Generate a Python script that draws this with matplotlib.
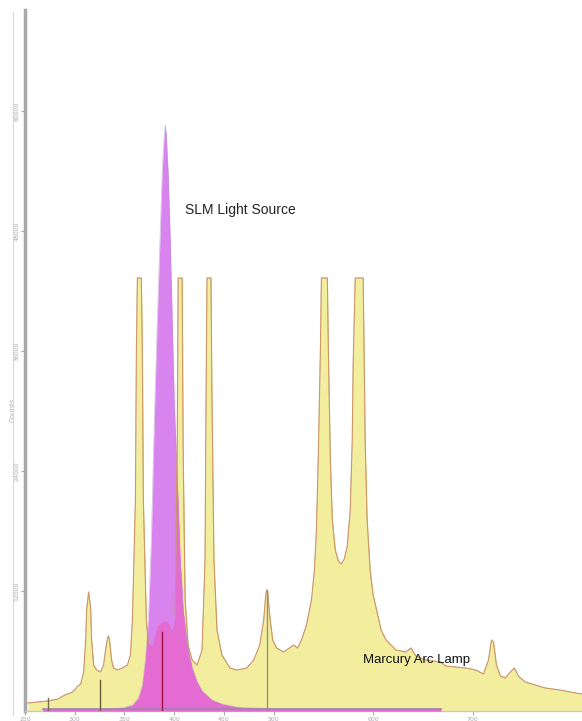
import numpy as np
import matplotlib
matplotlib.use("Agg")
import matplotlib.pyplot as plt
from matplotlib.lines import Line2D

# Mercury arc lamp spectrum (wavelength nm, counts; saturated at 43300)
hg_nm = [253, 263, 273, 283, 290, 296, 300, 303, 306, 309, 311, 312, 314, 316, 317, 319,
         322, 326, 329, 331, 333, 334, 335, 337, 339, 343, 348, 353, 356, 358, 361, 362,
         363, 367, 368, 369, 372, 374, 378, 383, 388, 393, 398, 401, 403, 404, 408, 409,
         411, 414, 418, 423, 428, 431, 432, 433, 437, 438, 440, 443, 448, 456, 463, 473,
         480, 486, 490, 492, 493, 494, 496, 499, 503, 510, 516, 520, 524, 528, 533, 538,
         541, 543, 545, 547, 548, 554, 555, 557, 559, 562, 565, 568, 571, 574, 577, 579,
         580, 582, 590, 591, 592, 594, 597, 600, 604, 608, 613, 618, 623, 633, 638, 643,
         653, 668, 673, 683, 693, 703, 711, 716, 719, 721, 724, 728, 733, 738, 742, 746,
         753, 763, 773, 788, 798, 810]
hg_counts = [800, 900, 1000, 1200, 1600, 1800, 2100, 2500, 2700, 3900, 7100, 10100, 11900, 10300, 7100, 4600,
             4100, 3900, 4600, 6100, 7300, 7500, 7100, 5100, 4300, 4100, 4300, 4600, 5600, 9100, 21100, 36100,
             43300, 43300, 36100, 21100, 9100, 6800, 6500, 8500, 9000, 9000, 8000, 9600, 26100, 43300, 43300, 26100,
             11100, 6600, 5100, 4600, 6100, 15100, 31100, 43300, 43300, 31100, 15100, 8100, 5600, 4300, 4100, 4300,
             5100, 6600, 9100, 11600, 12100, 11900, 9600, 7100, 6300, 5900, 6300, 6600, 6300, 7100, 8600, 11100,
             14100, 18100, 26100, 36100, 43300, 43300, 36100, 25100, 19100, 16100, 15000, 14700, 15200, 16500, 20100, 27100,
             35100, 43300, 43300, 35100, 27100, 19100, 14100, 11600, 9900, 8100, 7100, 6600, 6100, 5900, 6300, 5500,
             5100, 4900, 4500, 4400, 4300, 4100, 3700, 5100, 7100, 6900, 4600, 3500, 3300, 3900, 4300, 3500,
             2900, 2600, 2300, 2100, 1900, 1700]

# SLM light source spectrum
slm_nm = [268, 328, 348, 358, 364, 368, 371, 374, 377, 380, 383, 386, 388, 390, 391, 392,
          394, 396, 398, 400, 403, 406, 409, 413, 418, 423, 428, 438, 448, 463, 478, 528, 668]
slm_counts = [200, 200, 300, 600, 1300, 2600, 5100, 9100, 17100, 29100, 39100, 48100, 54100, 57600, 58600, 57600,
              53600, 47100, 39100, 31100, 23100, 15100, 10100, 6600, 4300, 2900, 2000, 1100, 700, 400, 300, 200, 200]

# Cursor / marker lines (nm, top counts)
marker_nm = [273, 325, 388, 493]
marker_top = [1300, 3100, 7900, 12100]
marker_colors = ["#7a6a50", "#6a5a40", "#a01040", "#9a9080"]

xtick_vals = [250, 300, 350, 400, 450, 500, 600, 700]
ytick_vals = [12000, 24000, 36000, 48000, 60000]

fig = plt.figure(figsize=(5.82, 7.21), dpi=100)
ax = fig.add_axes([25 / 582, 1 - 711 / 721, 557 / 582, 701 / 721])

hx = np.array(hg_nm, float)
hy = np.array(hg_counts, float)
sx = np.array(slm_nm, float)
sy = np.array(slm_counts, float)

# Mercury fill
ax.fill_between(hx, 0, hy, color="#f3ee9e", lw=0, zorder=1)

# SLM fill (violet) and its overlap with the lamp (magenta)
ax.fill_between(sx, 0, sy, color="#d983ef", lw=0, zorder=3)
grid = np.linspace(sx.min(), sx.max(), 3000)
overlap = np.minimum(np.interp(grid, sx, sy), np.interp(grid, hx, hy))
ax.fill_between(grid, 0, overlap, color="#e46bd2", lw=0, zorder=4)
ax.plot(sx, sy, color="#b890d0", lw=0.5, alpha=0.6, zorder=5)
ax.plot([sx.min(), sx.max()], [sy[0], sy[-1]], color="#9a88a8", lw=1.2, zorder=5)

# Mercury outline (hidden where the SLM peak covers it)
hy_line = np.ma.masked_where((hx > 375) & (hx < 401), hy)
ax.plot(hx, hy_line, color="#b8906a", lw=0.8, zorder=6)
ax.plot(hx, hy_line, color="#f0a060", lw=0.4, alpha=0.7, zorder=6)

for xm, tm, cm in zip(marker_nm, marker_top, marker_colors):
    ax.plot([xm, xm], [0, tm], color=cm, lw=1.0, zorder=7)

ax.text(411, 50100, "SLM Light Source", fontsize=10, family="Liberation Sans",
        color="#222222", va="center", ha="left", zorder=8)
ax.text(590, 5100, "Marcury Arc Lamp", fontsize=9.5, family="Liberation Sans",
        color="#111111", va="center", ha="left", zorder=8)

ax.set_xlim(253, 810)
ax.set_ylim(0, 70100)

for s in ["top", "right"]:
    ax.spines[s].set_visible(False)
ax.spines["left"].set_color("#a8a8a8")
ax.spines["left"].set_linewidth(2.5)
ax.spines["bottom"].set_color("#c8c8c8")
ax.spines["bottom"].set_linewidth(1.0)

ax.set_xticks(xtick_vals)
ax.set_xticklabels([str(v) for v in xtick_vals])
ax.set_yticks(ytick_vals)
ax.set_yticklabels([str(v) for v in ytick_vals], rotation=90, va="center")
ax.tick_params(axis="both", labelsize=4.5, colors="#aaaaaa", length=3, width=0.8, pad=1)
ax.set_ylabel("Counts", fontsize=5, color="#aaaaaa")
ax.yaxis.set_label_coords(-0.016, 0.43)

fig.add_artist(Line2D([13 / 582, 13 / 582], [1 - 715 / 721, 1 - 12 / 721],
                      color="#d8d8d8", lw=0.8))

fig.savefig("out.png", dpi=100, facecolor="white")
